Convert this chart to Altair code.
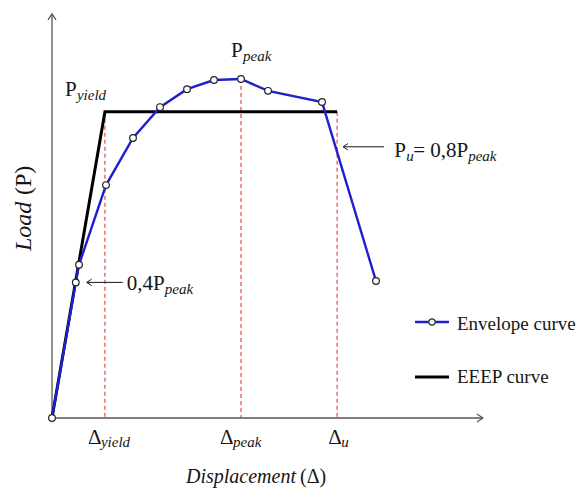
import altair as alt
import pandas as pd

# ---------------- data ----------------
disp = [0, 4.4, 5.0, 10.0, 15.0, 20.0, 25.0, 30.0, 35.0, 40.0, 50.0, 60.0]
load = [0, 40.0, 45.2, 68.7, 82.6, 91.7, 97.0, 99.7, 100.0, 96.5, 93.2, 40.4]
eeep_disp = [0, 9.8, 52.8]
eeep_load = [0, 90.3, 90.3]
d_yield, d_peak, d_u = 9.8, 35.0, 52.8
p_yield, p_peak, p_u, p_04 = 90.3, 100.0, 80.0, 40.0
axis_x_max, axis_y_max = 79.8, 119.2
series_labels = ["Envelope curve", "EEEP curve"]

# ---------------- styles ----------------
FONT = "'Liberation Serif', 'Times New Roman', 'DejaVu Serif', serif"
BLUE = "#1f1fd0"
RED = "#e23b3b"
AX = "#555555"
TXT = "#161616"
UP = "M-0.8,1.2L0,0L0.8,1.2"
RIGHT = "M-1.2,-0.8L0,0L-1.2,0.8"
LEFT = "M1.2,-0.8L0,0L1.2,0.8"

xs = alt.Scale(domain=[-9.63, 97.59], nice=False, zero=False)
ys = alt.Scale(domain=[-22.42, 123.30], nice=False, zero=False)

env = pd.DataFrame({"d": disp, "p": load})
eeep = pd.DataFrame({"d": eeep_disp, "p": eeep_load})
marks_df = pd.DataFrame({"d": [d_yield, d_peak, d_u], "p": [p_yield, p_peak, p_yield], "z": [0, 0, 0]})
one = pd.DataFrame({"k": [0]})


def fx(f):
    return alt.X(f, type="quantitative", scale=xs, axis=None)


def fy(f):
    return alt.Y(f, type="quantitative", scale=ys, axis=None)


def pt(x, y):
    return dict(x=alt.XDatum(x, scale=xs, axis=None), y=alt.YDatum(y, scale=ys, axis=None))


def text_at(x, y, s, size=21, italic=False, dx=0, dy=0):
    return alt.Chart(one).mark_text(
        text=s, font=FONT, fontSize=size, fontStyle="italic" if italic else "normal",
        align="left", baseline="alphabetic", dx=dx, dy=dy, color=TXT
    ).encode(**pt(x, y))


def text_px(px, py, s, size=21, italic=False, angle=0):
    kw = dict(text=s, font=FONT, fontSize=size, fontStyle="italic" if italic else "normal",
              align="left", baseline="alphabetic", color=TXT)
    if angle:
        kw["angle"] = angle
    return alt.Chart(one).mark_text(**kw).encode(x=alt.value(px), y=alt.value(py))


layers = []

# axes with arrowheads
layers.append(alt.Chart(one).mark_rule(color=AX, strokeWidth=1.3).encode(
    x=alt.XDatum(0, scale=xs, axis=None), y=alt.YDatum(0, scale=ys, axis=None),
    y2=alt.Y2Datum(axis_y_max)))
layers.append(alt.Chart(one).mark_rule(color=AX, strokeWidth=1.3).encode(
    x=alt.XDatum(0, scale=xs, axis=None), x2=alt.X2Datum(axis_x_max),
    y=alt.YDatum(0, scale=ys, axis=None)))
layers.append(alt.Chart(one).mark_point(shape=UP, size=100, color=AX, strokeWidth=1.2, opacity=1).encode(**pt(0, axis_y_max)))
layers.append(alt.Chart(one).mark_point(shape=RIGHT, size=100, color=AX, strokeWidth=1.2, opacity=1).encode(**pt(axis_x_max, 0)))

# red dashed guides
layers.append(alt.Chart(marks_df).mark_rule(color=RED, strokeDash=[4, 3], strokeWidth=1.1).encode(
    x=fx("d"), y=fy("p"), y2="z:Q"))

# EEEP curve
layers.append(alt.Chart(eeep).mark_line(color="black", strokeWidth=3).encode(
    x=fx("d"), y=fy("p"), order="d:Q"))

# envelope curve
layers.append(alt.Chart(env).mark_line(color=BLUE, strokeWidth=2.4).encode(
    x=fx("d"), y=fy("p"), order="d:Q"))
layers.append(alt.Chart(env).mark_point(shape="circle", filled=True, fill="white", stroke="#222222",
                                        strokeWidth=1.2, size=45, opacity=1).encode(x=fx("d"), y=fy("p")))

# annotation arrows
layers.append(alt.Chart(one).mark_rule(color=TXT, strokeWidth=1, xOffset=6, x2Offset=47).encode(
    x=alt.XDatum(d_u, scale=xs, axis=None), x2=alt.X2Datum(d_u), y=alt.YDatum(p_u, scale=ys, axis=None)))
layers.append(alt.Chart(one).mark_point(shape=LEFT, size=64, color=TXT, strokeWidth=1, opacity=1, xOffset=6).encode(**pt(d_u, p_u)))
layers.append(alt.Chart(one).mark_rule(color=TXT, strokeWidth=1, xOffset=11, x2Offset=47).encode(
    x=alt.XDatum(disp[1], scale=xs, axis=None), x2=alt.X2Datum(disp[1]), y=alt.YDatum(p_04, scale=ys, axis=None)))
layers.append(alt.Chart(one).mark_point(shape=LEFT, size=64, color=TXT, strokeWidth=1, opacity=1, xOffset=11).encode(**pt(disp[1], p_04)))

# annotation labels
layers += [
    text_at(d_yield, p_yield, "P", dx=-40, dy=-16),
    text_at(d_yield, p_yield, "yield", size=15, italic=True, dx=-28, dy=-12),
    text_at(d_peak, p_peak, "P", dx=-10, dy=-22),
    text_at(d_peak, p_peak, "peak", size=15, italic=True, dx=2, dy=-18),
    text_at(d_u, p_u, "P", dx=57, dy=10),
    text_at(d_u, p_u, "u", size=15, italic=True, dx=69, dy=14),
    text_at(d_u, p_u, "= 0,8P", dx=76, dy=10),
    text_at(d_u, p_u, "peak", size=15, italic=True, dx=131, dy=14),
    text_at(disp[1], p_04, "0,4P", dx=51, dy=8),
    text_at(disp[1], p_04, "peak", size=15, italic=True, dx=89, dy=12),
    text_at(d_yield, 0, "\u0394", dx=-17, dy=26),
    text_at(d_yield, 0, "yield", size=15, italic=True, dx=-4, dy=29),
    text_at(d_peak, 0, "\u0394", dx=-21, dy=26),
    text_at(d_peak, 0, "peak", size=15, italic=True, dx=-8, dy=29),
    text_at(d_u, 0, "\u0394", dx=-9, dy=26),
    text_at(d_u, 0, "u", size=15, italic=True, dx=4, dy=29),
]

# axis titles
layers += [
    text_px(186, 483, "Displacement", size=20, italic=True),
    text_px(300, 483, "(\u0394)", size=20),
    text_px(31, 251, "Load", size=24, italic=True, angle=270),
    text_px(31, 195, "(P)", size=24, angle=270),
]

# legend
layers.append(alt.Chart(one).mark_rule(color=BLUE, strokeWidth=2.4).encode(
    x=alt.value(415), x2=alt.value(449), y=alt.value(322)))
layers.append(alt.Chart(one).mark_point(shape="circle", filled=True, fill="white", stroke="#222222",
                                        strokeWidth=1.2, size=40, opacity=1).encode(x=alt.value(432), y=alt.value(322)))
layers.append(alt.Chart(one).mark_rule(color="black", strokeWidth=3).encode(
    x=alt.value(415), x2=alt.value(449), y=alt.value(377)))
layers.append(text_px(457, 330, series_labels[0], size=19))
layers.append(text_px(457, 383, series_labels[1], size=19))

chart = alt.layer(*layers).properties(
    width=579, height=494, autosize=alt.AutoSizeParams(type="none"), padding=0
).configure_view(stroke=None)

chart.save("out.html", embed_options={"renderer": "svg", "actions": False})
